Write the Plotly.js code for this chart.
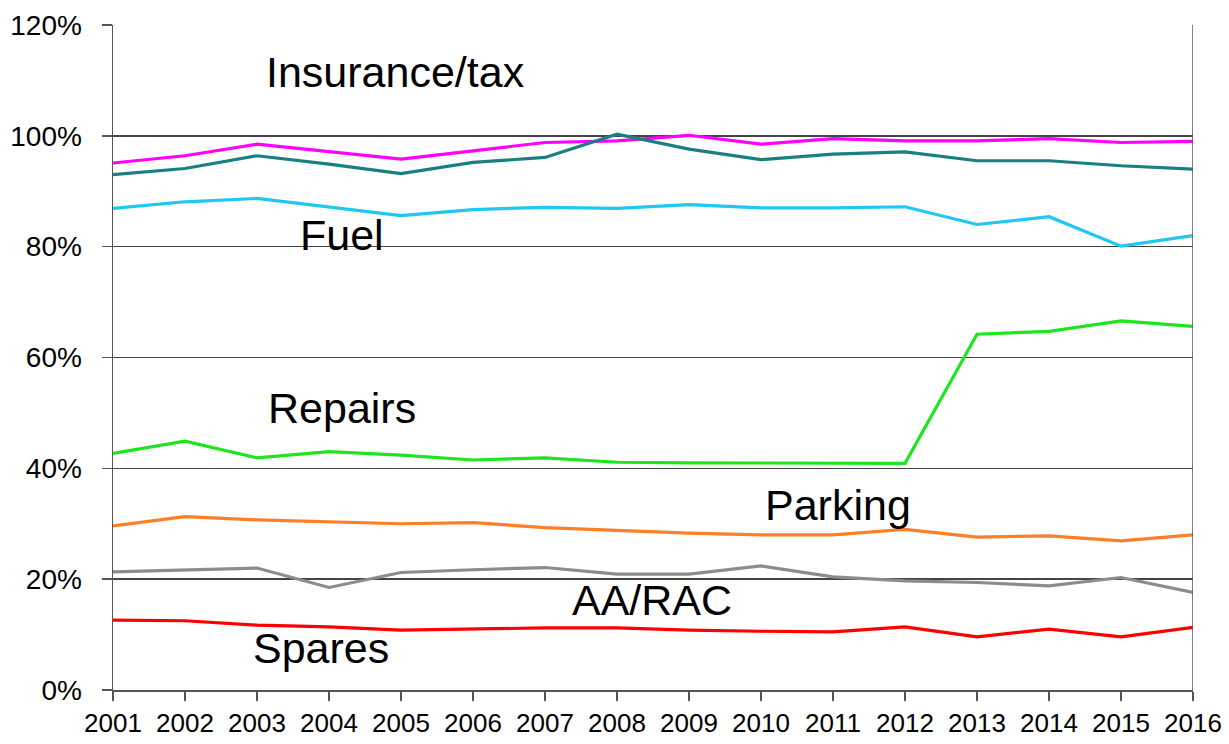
<!DOCTYPE html>
<html>
<head>
<meta charset="utf-8">
<script src="https://cdn.plot.ly/plotly-3.0.1.min.js"></script>
<style>html,body{margin:0;padding:0;background:#fff;}#chart{width:1229px;height:744px;}</style>
</head>
<body>
<div id="chart"></div>
<script>
const years = [2001,2002,2003,2004,2005,2006,2007,2008,2009,2010,2011,2012,2013,2014,2015,2016];
const insuranceTax = [95.1,96.4,98.5,97.1,95.8,97.3,98.8,99.1,100.1,98.5,99.5,99.1,99.1,99.5,98.8,99.0];
const other        = [93.0,94.1,96.4,94.9,93.2,95.2,96.1,100.3,97.6,95.7,96.7,97.1,95.5,95.5,94.6,94.0];
const fuel         = [86.9,88.1,88.7,87.1,85.6,86.7,87.1,86.9,87.6,87.0,87.0,87.2,84.0,85.4,80.1,82.0];
const repairs      = [42.7,44.9,41.9,43.0,42.4,41.5,41.9,41.1,41.0,41.0,40.9,40.9,64.2,64.7,66.6,65.6];
const parking      = [29.6,31.3,30.7,30.3,30.0,30.2,29.3,28.8,28.3,28.0,28.0,29.0,27.6,27.8,26.9,28.0];
const aaRac        = [21.3,21.7,22.0,18.5,21.2,21.7,22.1,20.9,20.9,22.4,20.4,19.7,19.4,18.8,20.3,17.6];
const spares       = [12.6,12.5,11.7,11.4,10.8,11.0,11.2,11.2,10.8,10.6,10.5,11.4,9.6,11.0,9.6,11.3];
const yTicks = [0,20,40,60,80,100,120];
const gridVals = [20,40,60,80,100];

const series = [
  {name:'Insurance/tax', y: insuranceTax, color:'#FF00FF'},
  {name:'Other', y: other, color:'#1A7F80'},
  {name:'Fuel', y: fuel, color:'#1EC8F2'},
  {name:'Repairs', y: repairs, color:'#1EE61E'},
  {name:'Parking', y: parking, color:'#FF7F27'},
  {name:'AA/RAC', y: aaRac, color:'#8C8C8C'},
  {name:'Spares', y: spares, color:'#FF0000'}
];

const traces = series.map(s => ({
  x: years, y: s.y, name: s.name, type:'scatter', mode:'lines',
  line:{color:s.color, width:3.2}, hoverinfo:'x+y+name'
}));

const labels = [
  {text:'Insurance/tax', x:2004.93, y:111.5},
  {text:'Fuel', x:2004.18, y:82.1},
  {text:'Repairs', x:2004.18, y:50.9},
  {text:'Parking', x:2011.07, y:33.4},
  {text:'AA/RAC', x:2008.49, y:16.2},
  {text:'Spares', x:2003.89, y:7.6}
];

const layout = {
  width:1229, height:744,
  margin:{l:113, r:36, t:25, b:54},
  paper_bgcolor:'#fff', plot_bgcolor:'#fff',
  showlegend:false,
  font:{family:'"Liberation Sans", Arial, sans-serif', color:'#000'},
  xaxis:{
    range:[2001,2016], tickvals: years, ticktext: years.map(String),
    showgrid:false, zeroline:false,
    showline:true, linecolor:'#555', linewidth:1.5,
    ticks:'outside', ticklen:9, tickcolor:'#555', tickwidth:1.5,
    tickfont:{size:26, color:'#000'}
  },
  yaxis:{
    range:[0,120], tickvals: yTicks, ticktext: yTicks.map(v => v + '%'),
    showgrid:false, zeroline:false,
    showline:true, linecolor:'#555', linewidth:1.5,
    ticks:'outside', ticklen:10, tickcolor:'#555', tickwidth:1.5,
    ticklabelstandoff:14,
    tickfont:{size:28, color:'#000'}
  },
  yaxis2:{
    overlaying:'y', range:[0,120], tickvals: gridVals,
    showgrid:true, gridcolor:'#444', gridwidth:1.4,
    showticklabels:false, ticks:'', showline:false, zeroline:false
  },
  shapes:[
    {type:'line', xref:'x', yref:'paper', x0:years[years.length-1], x1:years[years.length-1], y0:0, y1:1,
     line:{color:'#555', width:1.5}}
  ],
  annotations: labels.map(l => ({
    text:l.text, x:l.x, y:l.y, xref:'x', yref:'y', showarrow:false,
    font:{size:43, color:'#000'}
  }))
};

// invisible helper trace so the overlaid grid axis is drawn
traces.unshift({x:[years[0]], y:[gridVals[0]], yaxis:'y2', mode:'markers', marker:{opacity:0}, hoverinfo:'skip', showlegend:false});

Plotly.newPlot('chart', traces, layout, {displayModeBar:false, staticPlot:true});
</script>
</body>
</html>
